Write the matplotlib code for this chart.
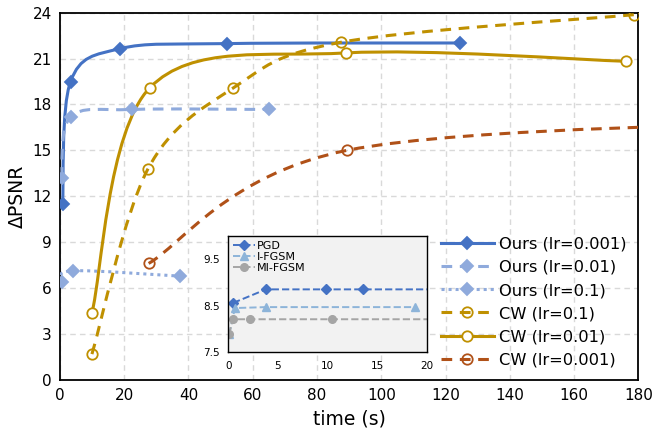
import numpy as np
import matplotlib
matplotlib.use('Agg')
import matplotlib.pyplot as plt
from matplotlib.path import Path
from matplotlib.patches import PathPatch
from matplotlib.lines import Line2D

# main chart: time (s) vs delta PSNR
ours_001_t = [0.8, 3.3, 18.7, 52.0, 124.6]
ours_001_y = [11.47, 19.5, 21.65, 21.98, 22.02]
ours_01_t = [0.5, 3.3, 22.3, 65.1]
ours_01_y = [13.2, 17.18, 17.67, 17.67]
ours_1_t = [0.5, 3.9, 37.3]
ours_1_y = [6.4, 7.12, 6.77]
cw_1_t = [9.95, 27.3, 53.8, 87.5, 178.6]
cw_1_y = [1.67, 13.75, 19.06, 22.07, 23.87]
cw_01_t = [9.95, 28.0, 89.0, 176.3]
cw_01_y = [4.37, 19.1, 21.37, 20.82]
cw_001_t = [27.6, 89.4, 250.0]
cw_001_y = [7.6, 15.0, 17.0]

# inset
pgd_t = [0.5, 3.8, 9.85, 13.6, 25.0]
pgd_y = [8.56, 8.85, 8.85, 8.85, 8.85]
ifgsm_t = [0.1, 0.67, 3.8, 18.8]
ifgsm_y = [7.89, 8.45, 8.47, 8.47]
mifgsm_t = [0.1, 0.44, 2.2, 10.5, 25.0]
mifgsm_y = [7.89, 8.21, 8.21, 8.21, 8.21]

DARK_BLUE = '#4472C4'
LIGHT_BLUE = '#8FAADC'
GOLD = '#BF9000'
BROWN = '#B05118'


def smooth_path(xs, ys):
    """Excel style smoothed line: cubic bezier through the points"""
    pts = np.column_stack([xs, ys]).astype(float)
    n = len(pts)
    verts = [pts[0]]
    codes = [Path.MOVETO]
    for i in range(n - 1):
        p_prev = pts[i - 1] if i > 0 else pts[i]
        p_next = pts[i + 2] if i + 2 < n else pts[i + 1]
        c1 = pts[i] + (pts[i + 1] - p_prev) / 6.0
        c2 = pts[i + 1] - (p_next - pts[i]) / 6.0
        verts += [c1, c2, pts[i + 1]]
        codes += [Path.CURVE4] * 3
    return Path(verts, codes)


def add_series(ax, xs, ys, color, ls, marker, mfc, ms):
    patch = PathPatch(smooth_path(xs, ys), facecolor='none', edgecolor=color,
                      lw=2.2, linestyle=ls, capstyle='butt', zorder=3)
    ax.add_patch(patch)
    ax.plot(xs, ys, ls='none', marker=marker, color=color, mfc=mfc,
            mec=color, ms=ms, mew=1.3, zorder=4)
    return Line2D([], [], color=color, ls=ls, lw=2.2, marker=marker,
                  mfc=mfc, mec=color, ms=ms, mew=1.3)


fig = plt.figure(figsize=(6.54, 4.34), dpi=100)
ax = fig.add_axes([0.0917, 0.1253, 0.8843, 0.8454])

dash = (0, (3.5, 2.5))
handles = []
handles.append(add_series(ax, ours_001_t, ours_001_y, DARK_BLUE, '-', 'D', DARK_BLUE, 6.5))
handles.append(add_series(ax, ours_01_t, ours_01_y, LIGHT_BLUE, dash, 'D', LIGHT_BLUE, 6.5))
handles.append(add_series(ax, ours_1_t, ours_1_y, LIGHT_BLUE, (0, (1, 1.3)), 'D', LIGHT_BLUE, 6.5))
handles.append(add_series(ax, cw_1_t, cw_1_y, GOLD, dash, 'o', 'none', 7.5))
handles.append(add_series(ax, cw_01_t, cw_01_y, GOLD, '-', 'o', 'white', 7.5))
handles.append(add_series(ax, cw_001_t, cw_001_y, BROWN, dash, 'o', 'none', 7.5))
labels = ['Ours (lr=0.001)', 'Ours (lr=0.01)', 'Ours (lr=0.1)',
          'CW (lr=0.1)', 'CW (lr=0.01)', 'CW (lr=0.001)']

ax.set_xlim(0, 180)
ax.set_ylim(0, 24)
ax.set_xticks(np.arange(0, 181, 20))
ax.set_yticks(np.arange(0, 25, 3))
ax.grid(True, color='#D9D9D9', ls=(0, (4, 3)), lw=1.0, zorder=0)
ax.set_axisbelow(True)
ax.tick_params(length=0, labelsize=11, pad=6)
for s in ax.spines.values():
    s.set_linewidth(1.3)
ax.set_xlabel('time (s)', fontsize=13.5, labelpad=5)
ax.set_ylabel('\u0394PSNR', fontsize=13.5, labelpad=4)

ax.legend(handles, labels, loc='lower right', bbox_to_anchor=(1.0, 0.0),
          frameon=False, fontsize=11.7, handlelength=3.25, handletextpad=0.3,
          labelspacing=0.5, borderaxespad=0.35)

# inset
ins = fig.add_axes([0.349, 0.188, 0.3034, 0.269])
ins.set_facecolor('#F2F2F2')
ins.plot(pgd_t, pgd_y, color=DARK_BLUE, ls='--', lw=1.4, marker='D', ms=5.5, label='PGD')
ins.plot(ifgsm_t, ifgsm_y, color='#8DB4D9', ls='--', lw=1.4, marker='^', ms=6, label='I-FGSM')
ins.plot(mifgsm_t, mifgsm_y, color='#A5A5A5', ls='--', lw=1.4, marker='o', ms=5.5, label='MI-FGSM')
ins.set_xlim(0, 20)
ins.set_ylim(7.5, 10)
ins.set_xticks([0, 5, 10, 15, 20])
ins.set_yticks([7.5, 8.5, 9.5])
ins.tick_params(length=0, labelsize=7.5, pad=6)
for s in ins.spines.values():
    s.set_linewidth(1.0)
ins.legend(loc='upper left', frameon=False, fontsize=8, handlelength=2.0,
           handletextpad=0.1, labelspacing=0.1, borderaxespad=0.05)

fig.savefig('out.png', dpi=100)
